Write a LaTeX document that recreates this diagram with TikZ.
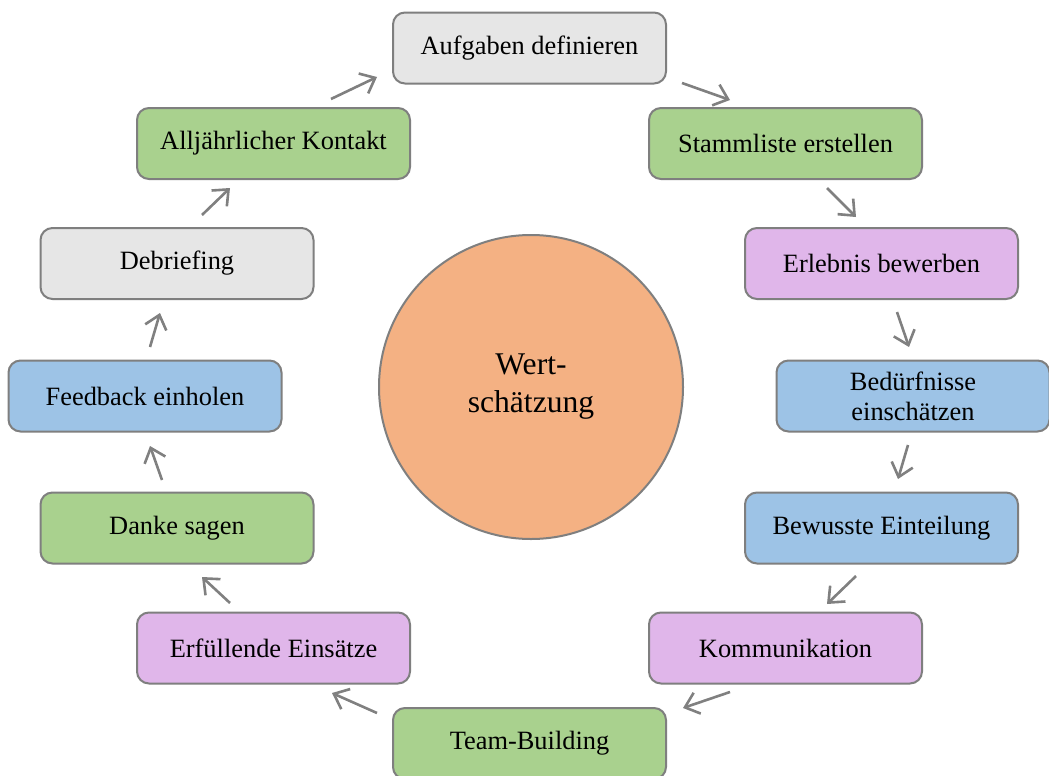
\documentclass[tikz,border=0pt]{standalone}
\usepackage{fontspec}
\setmainfont{Liberation Serif}
\usetikzlibrary{arrows.meta}
\definecolor{cgray}{HTML}{E6E6E6}
\definecolor{cgreen}{HTML}{A9D18E}
\definecolor{cpurple}{HTML}{E0B6EA}
\definecolor{cblue}{HTML}{9DC3E6}
\definecolor{corange}{HTML}{F4B183}
\definecolor{cborder}{HTML}{7F7F7F}
\definecolor{carrow}{HTML}{808080}
\tikzset{
  stepbox/.style={draw=cborder, line width=1pt, rounded corners=6pt,
    minimum width=136.5pt, minimum height=35.5pt, inner sep=0pt,
    align=center, font=\fontsize{13.2}{15}\selectfont, text=black},
  gbox/.style={stepbox, fill=cgray},
  grbox/.style={stepbox, fill=cgreen},
  pbox/.style={stepbox, fill=cpurple},
  bbox/.style={stepbox, fill=cblue},
  cyc/.style={draw=carrow, line width=1.3pt, -{Straight Barb[length=6.5pt,width=11pt]}}
}
\begin{document}
\begin{tikzpicture}[x=0.5pt,y=-0.5pt]
\clip (0,0) rectangle (1049,776);
\fill[white] (0,0) rectangle (1049,776);
% centre
\node[circle, draw=cborder, line width=1pt, fill=corange, minimum size=152pt, inner sep=0pt,
  align=center, font=\fontsize{15.8}{19}\selectfont] (c) at (531,387) {Wert-\\schätzung};
% boxes
\node[gbox]  (auf)   at (529.5,48)    {Aufgaben definieren};
\node[grbox] (stamm) at (785.5,143.5)  {Stammliste erstellen};
\node[pbox]  (erl)   at (881.5,263.5) {Erlebnis bewerben};
\node[bbox]  (bed)   at (913,396)     {Bedürfnisse\\einschätzen};
\node[bbox]  (bew)   at (881.5,528)   {Bewusste Einteilung};
\node[pbox]  (komm)  at (785.5,648)   {Kommunikation};
\node[grbox] (team)  at (529.5,743.5) {Team-Building};
\node[pbox]  (erf)   at (273.5,648)   {Erfüllende Einsätze};
\node[grbox] (danke) at (177,528)     {Danke sagen};
\node[bbox]  (feed)  at (145,396)     {Feedback einholen};
\node[gbox]  (debr)  at (177,263.5)   {Debriefing};
\node[grbox] (allj)  at (273.5,143.5) {Alljährlicher Kontakt};
% arrow end points
\coordinate (a1s) at (331,99);   \coordinate (a1e) at (377,77);
\coordinate (a2s) at (682,83);   \coordinate (a2e) at (730,100);
\coordinate (a3s) at (827,188);  \coordinate (a3e) at (856,217);
\coordinate (a4s) at (897,312);  \coordinate (a4e) at (909,347);
\coordinate (a5s) at (908,445);  \coordinate (a5e) at (898,479);
\coordinate (a6s) at (856,576);  \coordinate (a6e) at (827,604);
\coordinate (a7s) at (730,692);  \coordinate (a7e) at (683,708);
\coordinate (a8s) at (377,713);  \coordinate (a8e) at (332,693);
\coordinate (a9s) at (230,603);  \coordinate (a9e) at (202,577);
\coordinate (a10s) at (162,480); \coordinate (a10e) at (150,446);
\coordinate (a11s) at (150,347); \coordinate (a11e) at (160,313);
\coordinate (a12s) at (202,215); \coordinate (a12e) at (230,188);
\foreach \i in {1,...,12} { \draw[cyc] (a\i s) -- (a\i e); }
\end{tikzpicture}
\end{document}
